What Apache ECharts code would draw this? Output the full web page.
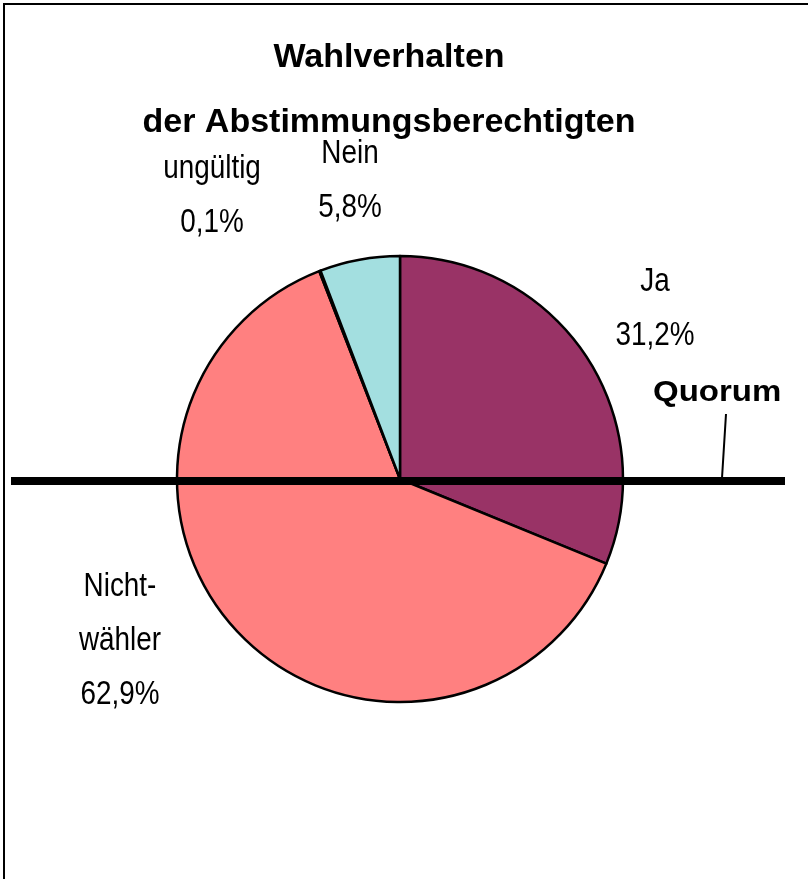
<!DOCTYPE html>
<html>
<head>
<meta charset="utf-8">
<script src="https://cdn.jsdelivr.net/npm/echarts@6/dist/echarts.min.js"></script>
<style>
html,body{margin:0;padding:0;background:#fff;}
#c{width:808px;height:879px;}
</style>
</head>
<body>
<div id="c"></div>
<script>
var categories = ['Ja', 'Nicht-\nwähler', 'ungültig', 'Nein'];
var values = [31.2, 62.9, 0.1, 5.8];
var colors = ['#993366', '#FF8080', '#FF8080', '#A3DFE0'];
var titleLines = ['Wahlverhalten', 'der Abstimmungsberechtigten'];
var quorumLabel = 'Quorum';

// label block placement (style only)
var labelPos = [[655, 309], [120, 641], [212, 196], [350, 181]];

var chart = echarts.init(document.getElementById('c'), null, {renderer: 'canvas'});

function fmt(v) { return v.toFixed(1).replace('.', ',') + '%'; }

var labelGraphics = categories.map(function (c, i) {
  return {
    type: 'text', z: 110,
    x: labelPos[i][0], y: labelPos[i][1],
    scaleX: 0.82,
    style: {
      text: c + '\n' + fmt(values[i]),
      fontFamily: 'Liberation Sans',
      fontSize: 34,
      lineHeight: 54,
      fill: '#000',
      align: 'center',
      verticalAlign: 'middle'
    }
  };
});

var option = {
  backgroundColor: '#ffffff',
  animation: false,
  title: {
    text: titleLines.join('\n'),
    left: 384,
    top: 20,
    textAlign: 'center',
    textStyle: {
      fontFamily: 'Liberation Sans',
      fontWeight: 'bold',
      fontSize: 34,
      lineHeight: 65,
      color: '#000'
    }
  },
  series: [{
    type: 'pie',
    center: [400, 479],
    radius: 223,
    startAngle: 90,
    clockwise: true,
    minAngle: 0,
    data: categories.map(function (c, i) {
      return { name: c, value: values[i], itemStyle: { color: colors[i] } };
    }),
    itemStyle: { borderColor: '#000', borderWidth: 2.5 },
    label: { show: false },
    labelLine: { show: false },
    emphasis: { disabled: true }
  }],
  graphic: [
    { type: 'rect', z: 100, shape: { x: 4, y: 4, width: 900, height: 900 },
      style: { fill: 'none', stroke: '#000', lineWidth: 2 } },
    { type: 'line', z: 100, shape: { x1: 11, y1: 481, x2: 785, y2: 481 },
      style: { stroke: '#000', lineWidth: 8 } },
    { type: 'line', z: 100, shape: { x1: 722, y1: 478, x2: 726, y2: 414 },
      style: { stroke: '#000', lineWidth: 2 } },
    { type: 'text', z: 100, x: 653, y: 408, scaleX: 1.1,
      style: { text: quorumLabel, fontFamily: 'Liberation Sans', fontWeight: 'bold',
               fontSize: 30, fill: '#000', align: 'left', verticalAlign: 'bottom' } }
  ].concat(labelGraphics)
};
chart.setOption(option);
</script>
</body>
</html>
